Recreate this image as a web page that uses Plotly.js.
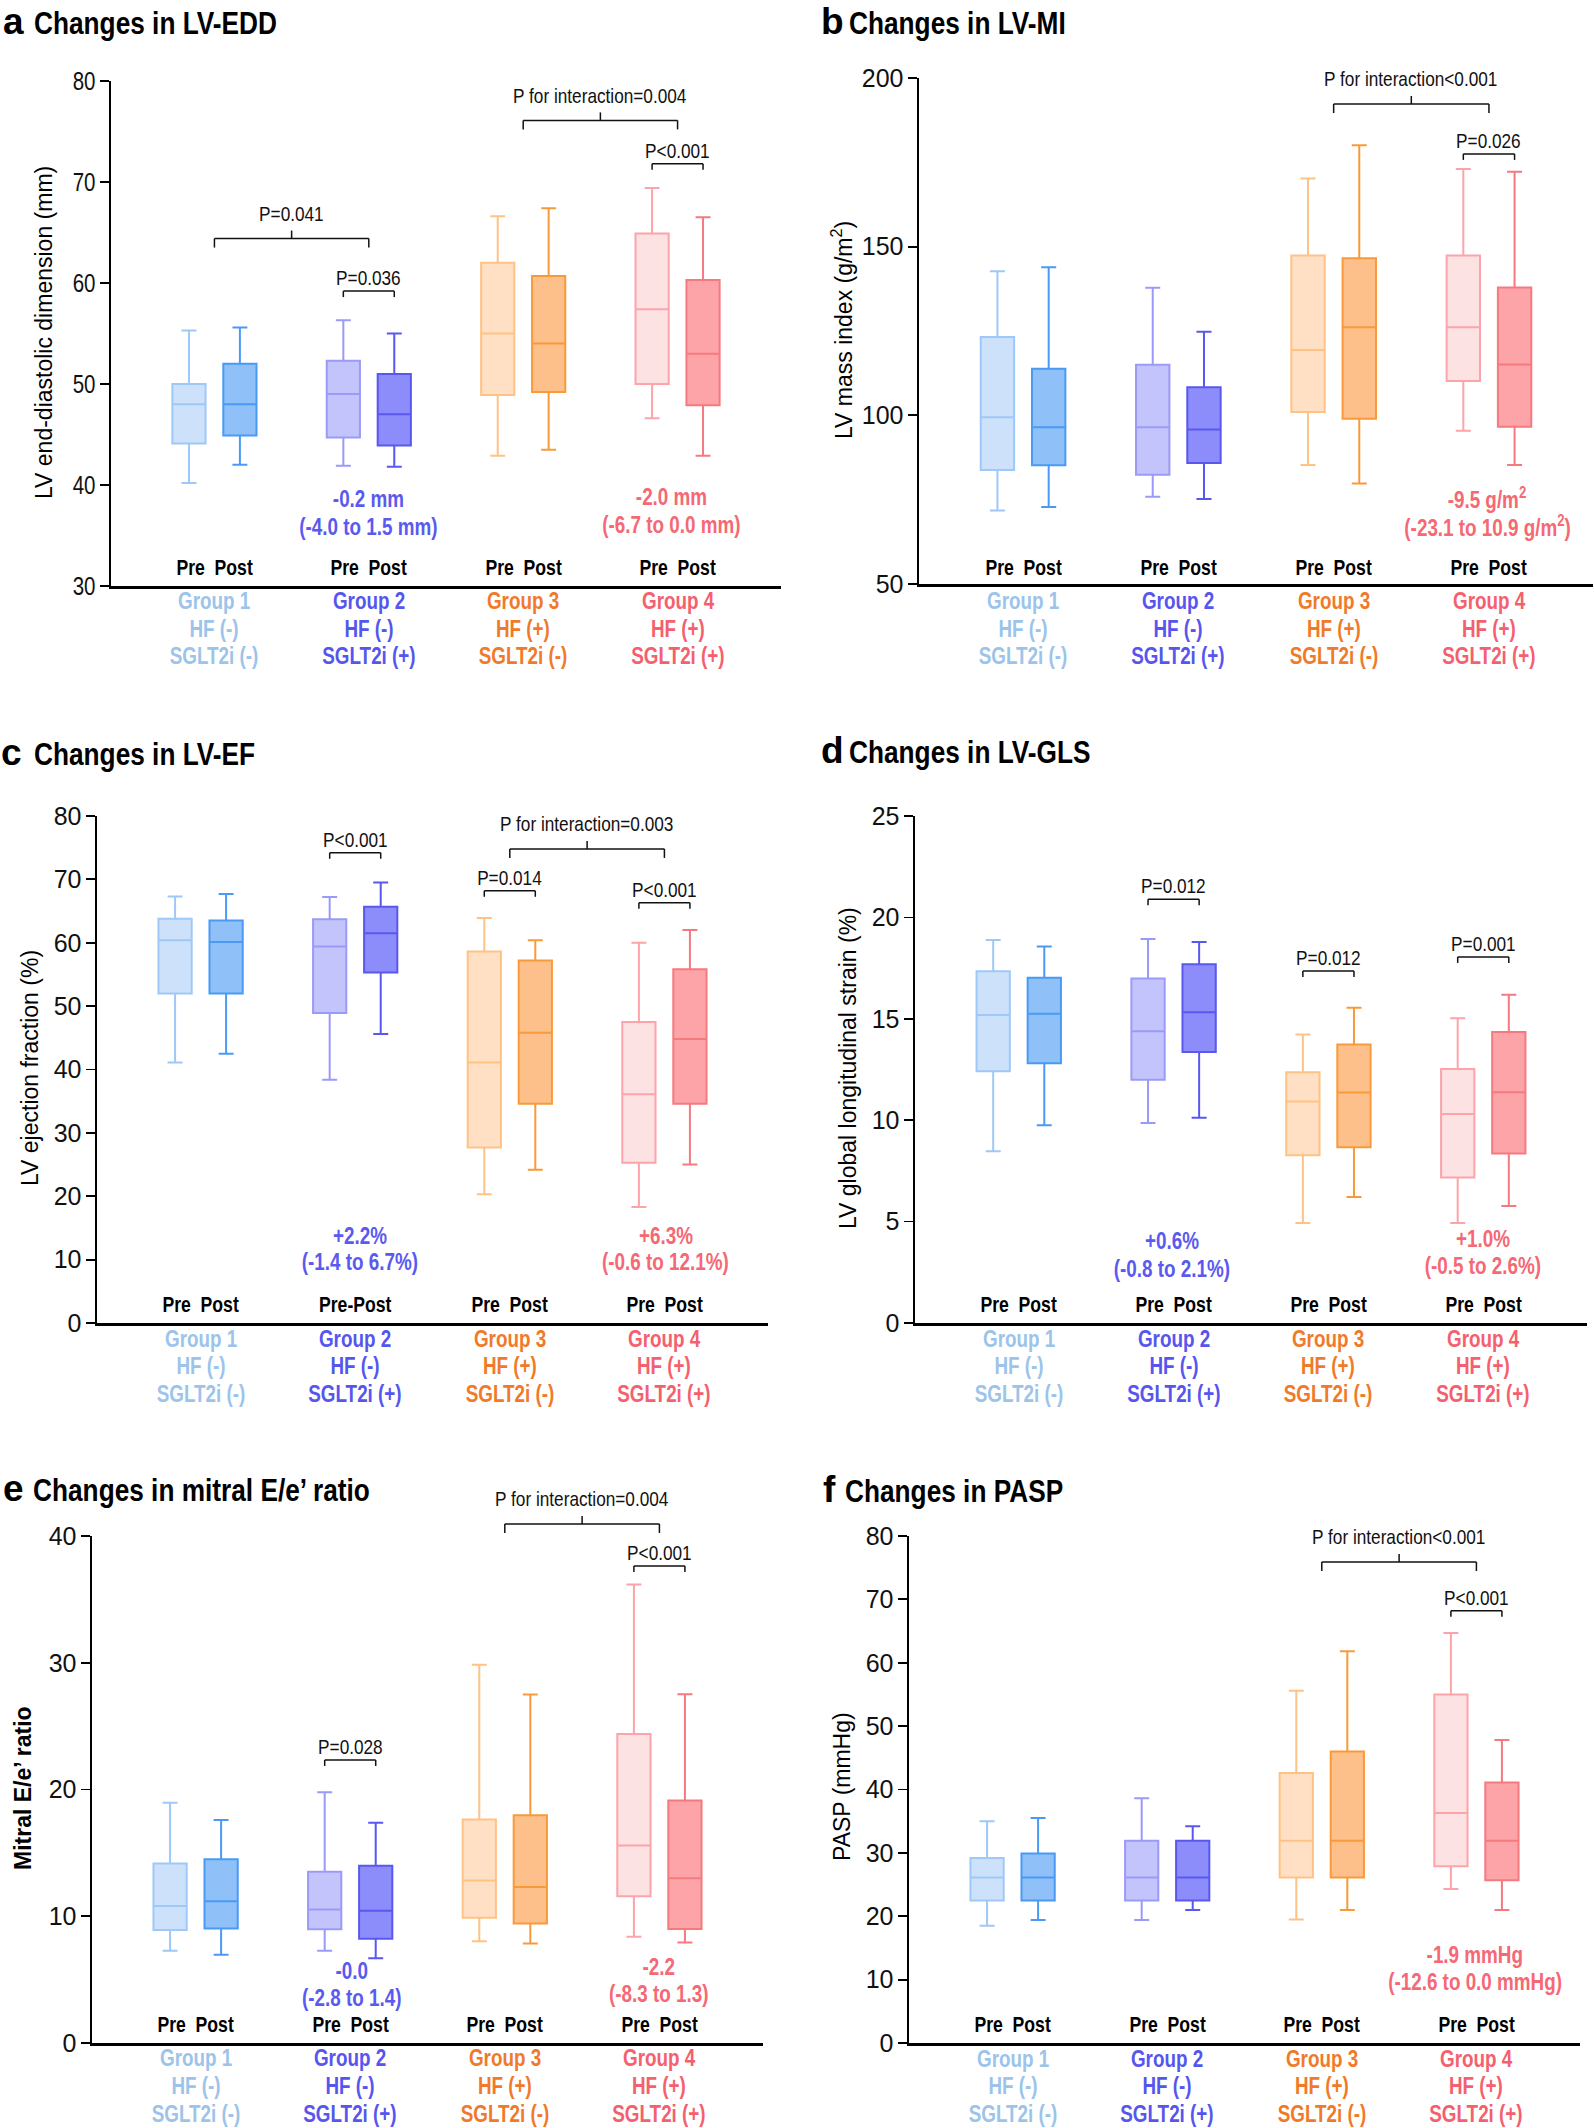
<!DOCTYPE html>
<html>
<head>
<meta charset="utf-8">
<script src="https://cdn.plot.ly/plotly-3.0.1.min.js"></script>
<style>html,body{margin:0;padding:0;background:#fff;}</style>
</head>
<body>
<div id="chart" style="width:1594px;height:2128px;"></div>
<script>
// ---------- DATA ----------
const groupNames = ['Group 1', 'Group 2', 'Group 3', 'Group 4'];
const hfLabels = ['HF (-)', 'HF (-)', 'HF (+)', 'HF (+)'];
const sglt2iLabels = ['SGLT2i (-)', 'SGLT2i (+)', 'SGLT2i (-)', 'SGLT2i (+)'];
const timepoints = ['Pre', 'Post'];

// order of boxes: G1 Pre, G1 Post, G2 Pre, G2 Post, G3 Pre, G3 Post, G4 Pre, G4 Post
const eddLower  = [40.2, 42.0, 41.9, 41.8, 42.9, 43.5, 46.6, 42.9];
const eddQ1     = [44.1, 44.9, 44.7, 43.9, 48.9, 49.2, 50.0, 47.9];
const eddMedian = [48.0, 48.0, 49.0, 47.0, 55.0, 54.0, 57.4, 53.0];
const eddQ3     = [50.0, 52.0, 52.3, 51.0, 62.0, 60.7, 64.9, 60.3];
const eddUpper  = [55.3, 55.6, 56.3, 55.0, 66.6, 67.4, 69.4, 66.5];

const lvmiLower  = [71.8, 72.8, 75.9, 75.2, 85.3, 79.8, 95.4, 85.3];
const lvmiQ1     = [83.8, 85.2, 82.4, 85.9, 101.0, 99.0, 110.2, 96.6];
const lvmiMedian = [99.4, 96.5, 96.5, 95.8, 119.4, 126.1, 126.1, 115.1];
const lvmiQ3     = [123.2, 113.8, 115.0, 108.3, 147.4, 146.6, 147.4, 137.9];
const lvmiUpper  = [142.7, 143.9, 137.8, 124.8, 170.2, 180.1, 173.0, 172.2];

const efLower  = [41.1, 42.5, 38.4, 45.6, 20.3, 24.2, 18.3, 25.0];
const efQ1     = [52.0, 52.0, 48.9, 55.3, 27.7, 34.6, 25.3, 34.6];
const efMedian = [60.4, 60.1, 59.4, 61.5, 41.1, 45.8, 36.1, 44.8];
const efQ3     = [63.8, 63.5, 63.7, 65.7, 58.6, 57.2, 47.5, 55.8];
const efUpper  = [67.3, 67.7, 67.2, 69.5, 63.9, 60.4, 60.0, 62.0];

const glsLower  = [8.47, 9.75, 9.86, 10.12, 4.93, 6.21, 4.93, 5.77];
const glsQ1     = [12.41, 12.81, 11.99, 13.36, 8.27, 8.67, 7.17, 8.36];
const glsMedian = [15.19, 15.25, 14.39, 15.32, 10.92, 11.36, 10.30, 11.38];
const glsQ3     = [17.34, 17.03, 16.99, 17.69, 12.37, 13.73, 12.52, 14.35];
const glsUpper  = [18.88, 18.57, 18.93, 18.79, 14.22, 15.54, 15.03, 16.18];

const eeLower  = [7.27, 6.96, 7.27, 6.69, 8.02, 7.85, 8.39, 7.92];
const eeQ1     = [8.91, 9.04, 8.97, 8.22, 9.89, 9.42, 11.57, 9.00];
const eeMedian = [10.81, 11.19, 10.54, 10.44, 12.83, 12.31, 15.59, 13.00];
const eeQ3     = [14.16, 14.50, 13.51, 13.99, 17.63, 17.97, 24.38, 19.13];
const eeUpper  = [18.96, 17.60, 19.78, 17.37, 29.84, 27.49, 36.18, 27.52];

const paspLower  = [18.5, 19.4, 19.4, 21.0, 19.5, 21.0, 24.3, 21.0];
const paspQ1     = [22.5, 22.5, 22.5, 22.5, 26.1, 26.1, 27.9, 25.7];
const paspMedian = [26.1, 26.1, 26.1, 26.1, 31.9, 31.9, 36.3, 31.9];
const paspQ3     = [29.2, 29.9, 31.9, 31.9, 42.6, 46.0, 55.0, 41.1];
const paspUpper  = [35.0, 35.5, 38.6, 34.2, 55.6, 61.8, 64.7, 47.8];

// ---------- STYLE ----------
const W = 1594, H = 2128;
const SANS = '"Liberation Sans", Arial, sans-serif';
const NARROW_SCALE = 0.82;   // horizontal squeeze to mimic a condensed face
const boxLineColors = ['#9ec8f8', '#4a9af5', '#9a9af8', '#5858f0', '#ffc285', '#f99a3a', '#fca4aa', '#f57a80'];
const boxFillColors = ['#cde2fa', '#8fc0f8', '#c4c4fd', '#8c8cfa', '#ffe0c4', '#fec08a', '#fde2e4', '#fda4a8'];
const groupTextColors = ['#9cc4ea', '#5656ee', '#f07a2a', '#f4606e'];
const BLUE = '#5a5af0', PINK = '#f56874';
const OFFSET = 0.165, BOXW = 0.215, XR = [0.33, 4.67];
const PP = 'Pre\u00a0\u00a0Post';

const panels = [
  { letter: 'a', title: 'Changes in LV-EDD', ytitle: 'LV end-diastolic dimension (mm)', ytBold: false,
    axL: 111, axR: 781, axT: 81, axB: 586, yr: [30, 80], dtick: 10,
    stats: [eddLower, eddQ1, eddMedian, eddQ3, eddUpper],
    letterX: 2, titleX: 33, baseline: 34, ytX: 44, ytY: 333,
    prePostY: 568, groupY: [601, 629, 656], prePost: [PP, PP, PP, PP],
    brackets: [
      { x0: 3, x1: 4, y: 76.1, span: true, label: 'P for interaction=0.004' },
      { x0: 4 - OFFSET, x1: 4 + OFFSET, y: 71.8, label: 'P<0.001' },
      { x0: 1, x1: 2, y: 64.4, span: true, label: 'P=0.041' },
      { x0: 2 - OFFSET, x1: 2 + OFFSET, y: 59.2, label: 'P=0.036' }
    ],
    effects: [
      { x: 2.0, ys: [499, 527], color: BLUE, lines: ['-0.2 mm', '(-4.0 to 1.5 mm)'] },
      { x: 3.96, ys: [497, 525], color: PINK, lines: ['-2.0 mm', '(-6.7 to 0.0 mm)'] }
    ] },
  { letter: 'b', title: 'Changes in LV-MI', ytitle: 'LV mass index (g/m<sup>2</sup>)', ytBold: false,
    axL: 919, axR: 1593, axT: 78, axB: 584, yr: [50, 200], dtick: 50,
    stats: [lvmiLower, lvmiQ1, lvmiMedian, lvmiQ3, lvmiUpper],
    letterX: 820, titleX: 848, baseline: 34, ytX: 842, ytY: 330,
    prePostY: 568, groupY: [601, 629, 656], prePost: [PP, PP, PP, PP],
    brackets: [
      { x0: 3, x1: 4, y: 192.3, span: true, label: 'P for interaction<0.001' },
      { x0: 4 - OFFSET, x1: 4 + OFFSET, y: 177.5, label: 'P=0.026' }
    ],
    effects: [
      { x: 3.99, ys: [498, 526], color: PINK, lines: ['-9.5 g/m<sup>2</sup>', '(-23.1 to 10.9 g/m<sup>2</sup>)'] }
    ] },
  { letter: 'c', title: 'Changes in LV-EF', ytitle: 'LV ejection fraction (%)', ytBold: false,
    axL: 97, axR: 768, axT: 816, axB: 1323, yr: [0, 80], dtick: 10,
    stats: [efLower, efQ1, efMedian, efQ3, efUpper],
    letterX: 0, titleX: 33, baseline: 765, ytX: 30, ytY: 1068,
    prePostY: 1305, groupY: [1339, 1366, 1394], prePost: [PP, 'Pre-Post', PP, PP],
    brackets: [
      { x0: 2 - OFFSET, x1: 2 + OFFSET, y: 74.2, label: 'P<0.001' },
      { x0: 3, x1: 4, y: 74.8, span: true, label: 'P for interaction=0.003' },
      { x0: 3 - OFFSET, x1: 3 + OFFSET, y: 68.2, label: 'P=0.014' },
      { x0: 4 - OFFSET, x1: 4 + OFFSET, y: 66.3, label: 'P<0.001' }
    ],
    effects: [
      { x: 2.03, ys: [1236, 1262], color: BLUE, lines: ['+2.2%', '(-1.4 to 6.7%)'] },
      { x: 4.01, ys: [1236, 1262], color: PINK, lines: ['+6.3%', '(-0.6 to 12.1%)'] }
    ] },
  { letter: 'd', title: 'Changes in LV-GLS', ytitle: 'LV global longitudinal strain (%)', ytBold: false,
    axL: 915, axR: 1587, axT: 816, axB: 1323, yr: [0, 25], dtick: 5,
    stats: [glsLower, glsQ1, glsMedian, glsQ3, glsUpper],
    letterX: 820, titleX: 848, baseline: 763, ytX: 848, ytY: 1068,
    prePostY: 1305, groupY: [1339, 1366, 1394], prePost: [PP, PP, PP, PP],
    brackets: [
      { x0: 2 - OFFSET, x1: 2 + OFFSET, y: 20.9, label: 'P=0.012' },
      { x0: 3 - OFFSET, x1: 3 + OFFSET, y: 17.36, label: 'P=0.012' },
      { x0: 4 - OFFSET, x1: 4 + OFFSET, y: 18.05, label: 'P=0.001' }
    ],
    effects: [
      { x: 1.99, ys: [1241, 1269], color: BLUE, lines: ['+0.6%', '(-0.8 to 2.1%)'] },
      { x: 4.0, ys: [1239, 1266], color: PINK, lines: ['+1.0%', '(-0.5 to 2.6%)'] }
    ] },
  { letter: 'e', title: 'Changes in mitral E/e\u2019 ratio', ytitle: 'Mitral E/e\u2019 ratio', ytBold: true,
    axL: 92, axR: 763, axT: 1536, axB: 2043, yr: [0, 40], dtick: 10,
    stats: [eeLower, eeQ1, eeMedian, eeQ3, eeUpper],
    letterX: 2, titleX: 32, baseline: 1501, ytX: 23, ytY: 1788,
    prePostY: 2025, groupY: [2058, 2086, 2114], prePost: [PP, PP, PP, PP],
    brackets: [
      { x0: 2 - OFFSET, x1: 2 + OFFSET, y: 22.33, label: 'P=0.028' },
      { x0: 3, x1: 4, y: 40.95, span: true, label: 'P for interaction=0.004' },
      { x0: 4 - OFFSET, x1: 4 + OFFSET, y: 37.63, label: 'P<0.001' }
    ],
    effects: [
      { x: 2.01, ys: [1971, 1998], color: BLUE, lines: ['-0.0', '(-2.8 to 1.4)'] },
      { x: 3.995, ys: [1967, 1994], color: PINK, lines: ['-2.2', '(-8.3 to 1.3)'] }
    ] },
  { letter: 'f', title: 'Changes in PASP', ytitle: 'PASP (mmHg)', ytBold: false,
    axL: 909, axR: 1580, axT: 1536, axB: 2043, yr: [0, 80], dtick: 10,
    stats: [paspLower, paspQ1, paspMedian, paspQ3, paspUpper],
    letterX: 822, titleX: 844, baseline: 1502, ytX: 842, ytY: 1787,
    prePostY: 2025, groupY: [2059, 2086, 2114], prePost: [PP, PP, PP, PP],
    brackets: [
      { x0: 3, x1: 4, y: 75.9, span: true, label: 'P for interaction<0.001' },
      { x0: 4 - OFFSET, x1: 4 + OFFSET, y: 68.2, label: 'P<0.001' }
    ],
    effects: [
      { x: 3.99, ys: [1955, 1982], color: PINK, lines: ['-1.9 mmHg', '(-12.6 to 0.0 mmHg)'] }
    ] }
];

// ---------- BUILD ----------
const px = x => x / W;
const py = y => 1 - y / H;
const traces = [], annotations = [], shapes = [], squeezeFlags = [];
const layout = {
  width: W, height: H, margin: { l: 0, r: 0, t: 0, b: 0 },
  paper_bgcolor: '#ffffff', plot_bgcolor: 'rgba(0,0,0,0)', showlegend: false,
  annotations: annotations, shapes: shapes
};
function addAnn(a, narrow) { annotations.push(a); squeezeFlags.push(narrow ? (a.xanchor || 'center') : null); }

panels.forEach((p, i) => {
  const n = i === 0 ? '' : String(i + 1);
  const xa = 'x' + n, ya = 'y' + n;
  layout['xaxis' + n] = {
    domain: [px(p.axL), px(p.axR)], range: XR, anchor: ya,
    showline: true, linecolor: '#000', linewidth: 3,
    showticklabels: false, ticks: '', showgrid: false, zeroline: false, fixedrange: true
  };
  layout['yaxis' + n] = {
    domain: [py(p.axB), py(p.axT)], range: p.yr, anchor: xa, dtick: p.dtick, tick0: 0,
    showline: true, linecolor: '#000', linewidth: 2.5,
    ticks: 'outside', ticklen: 9, tickwidth: 1.8, tickcolor: '#000',
    ticklabelstandoff: -1,
    tickfont: { family: SANS, size: 25, color: '#111' },
    showgrid: false, zeroline: false, fixedrange: true
  };
  const [lo, q1, med, q3, up] = p.stats;
  for (let k = 0; k < 8; k++) {
    const g = Math.floor(k / 2) + 1;
    const pos = g + (k % 2 === 0 ? -OFFSET : OFFSET);
    traces.push({
      type: 'box', xaxis: xa, yaxis: ya, name: groupNames[g - 1] + ' ' + timepoints[k % 2],
      x: [pos], lowerfence: [lo[k]], q1: [q1[k]], median: [med[k]], q3: [q3[k]], upperfence: [up[k]],
      width: BOXW, whiskerwidth: 0.45, boxpoints: false,
      fillcolor: boxFillColors[k], line: { color: boxLineColors[k], width: 2 },
      hoverinfo: 'skip', showlegend: false
    });
  }
  // titles
  addAnn({ xref: 'paper', yref: 'paper', x: px(p.letterX), y: py(p.baseline - 0.35 * 37),
    xanchor: 'left', yanchor: 'middle', showarrow: false, borderpad: 0, text: p.letter,
    font: { family: SANS, size: 37, color: '#000', weight: 700 } }, false);
  addAnn({ xref: 'paper', yref: 'paper', x: px(p.titleX), y: py(p.baseline - 0.35 * 32),
    xanchor: 'left', yanchor: 'middle', showarrow: false, borderpad: 0, text: p.title,
    font: { family: SANS, size: 32, color: '#000', weight: 700 } }, true);
  addAnn({ xref: 'paper', yref: 'paper', x: px(p.ytX), y: py(p.ytY),
    xanchor: 'center', yanchor: 'middle', showarrow: false, textangle: -90, text: p.ytitle,
    font: { family: SANS, size: 23, color: '#000', weight: p.ytBold ? 700 : 400 } }, false);
  // group labels
  for (let g = 0; g < 4; g++) {
    addAnn({ xref: xa, yref: 'paper', x: g + 1, y: py(p.prePostY),
      xanchor: 'center', yanchor: 'middle', showarrow: false, text: p.prePost[g],
      font: { family: SANS, size: 21.5, color: '#000', weight: 700 } }, true);
    [groupNames[g], hfLabels[g], sglt2iLabels[g]].forEach((t, li) => {
      addAnn({ xref: xa, yref: 'paper', x: g + 1, y: py(p.groupY[li]),
        xanchor: 'center', yanchor: 'middle', showarrow: false, text: t,
        font: { family: SANS, size: 23, color: groupTextColors[g], weight: 700 } }, true);
    });
  }
  // brackets
  const yToPx = v => p.axB - (v - p.yr[0]) / (p.yr[1] - p.yr[0]) * (p.axB - p.axT);
  const ln = { color: '#111', width: 1.5 };
  p.brackets.forEach(b => {
    const yp = yToPx(b.y);
    const drop = b.span ? 9 : 6;
    shapes.push({ type: 'line', xref: xa, yref: 'paper', x0: b.x0, x1: b.x1, y0: py(yp), y1: py(yp), line: ln });
    shapes.push({ type: 'line', xref: xa, yref: 'paper', x0: b.x0, x1: b.x0, y0: py(yp), y1: py(yp + drop), line: ln });
    shapes.push({ type: 'line', xref: xa, yref: 'paper', x0: b.x1, x1: b.x1, y0: py(yp), y1: py(yp + drop), line: ln });
    if (b.span) {
      const xm = (b.x0 + b.x1) / 2;
      shapes.push({ type: 'line', xref: xa, yref: 'paper', x0: xm, x1: xm, y0: py(yp), y1: py(yp - 8), line: ln });
    }
    addAnn({ xref: xa, yref: 'paper', x: (b.x0 + b.x1) / 2, y: py(yp - (b.span ? 25 : 13.5)),
      xanchor: 'center', yanchor: 'middle', showarrow: false, text: b.label,
      font: { family: SANS, size: 21, color: '#111' } }, true);
  });
  // effect sizes
  p.effects.forEach(e => {
    e.lines.forEach((t, li) => {
      addAnn({ xref: xa, yref: 'paper', x: e.x, y: py(e.ys[li]),
        xanchor: 'center', yanchor: 'middle', showarrow: false, text: t,
        font: { family: SANS, size: 23, color: e.color, weight: 700 } }, true);
    });
  });
});

function squeeze(el, s, pivot) {
  const bb = el.getBBox();
  const cx = pivot === 'left' ? bb.x : (pivot === 'right' ? bb.x + bb.width : bb.x + bb.width / 2);
  const prev = el.getAttribute('transform') || '';
  el.setAttribute('transform', prev + ' translate(' + cx + ',0) scale(' + s + ',1) translate(' + (-cx) + ',0)');
}

Plotly.newPlot('chart', traces, layout, { staticPlot: true, displayModeBar: false }).then(gd => {
  gd.querySelectorAll('g.annotation').forEach(g => {
    const idx = +g.getAttribute('data-index');
    const flag = squeezeFlags[idx];
    if (!flag) return;
    const t = g.querySelector('text.annotation-text');
    if (t) squeeze(t, NARROW_SCALE, flag);
  });
  gd.querySelectorAll('g.ytick text').forEach(t => squeeze(t, NARROW_SCALE, 'right'));
  // drop empty placeholder text nodes (unused axis titles)
  gd.querySelectorAll('svg text').forEach(t => { if (!t.textContent.trim()) t.remove(); });
});
</script>
</body>
</html>
